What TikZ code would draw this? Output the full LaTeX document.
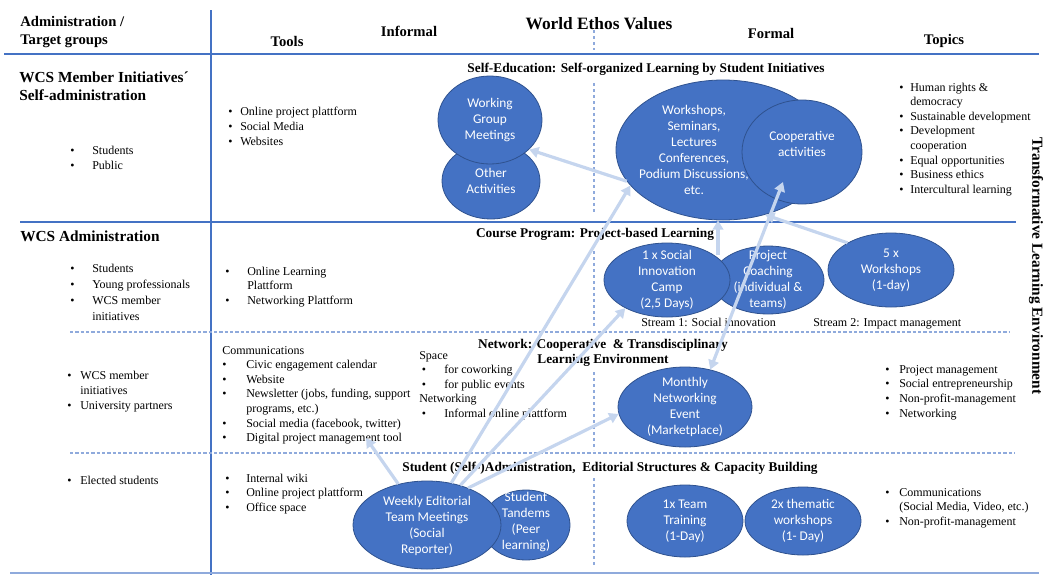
\documentclass[tikz,border=0pt]{standalone}
\usepackage{fontspec}
\setmainfont{Liberation Serif}
\newfontfamily\carl{Carlito}
\usetikzlibrary{shapes.geometric,arrows.meta}
\definecolor{fillb}{HTML}{4472C4}
\definecolor{edgeb}{HTML}{2F528F}
\definecolor{lineb}{HTML}{4472C4}
\definecolor{dashb}{HTML}{8FAADC}
\definecolor{arrb}{HTML}{C5D5EE}
\newcommand{\blist}[3]{\fontsize{9}{#2}\selectfont\begin{tabular}[t]{@{}p{#1}@{}l@{}}#3\end{tabular}}
\newcommand{\bu}{\textbullet}
\begin{document}
\begin{tikzpicture}[x=0.75pt,y=-0.75pt,
  hdr/.style={font=\bfseries\fontsize{11}{13.5}\selectfont, inner sep=0pt},
  rowh/.style={font=\bfseries\fontsize{11.5}{13.5}\selectfont, inner sep=0pt},
  sec/.style={font=\bfseries\fontsize{10}{11.25}\selectfont, inner sep=0pt},
  txt/.style={font=\fontsize{9}{11}\selectfont, inner sep=0pt},
  lst/.style={anchor=base west, inner sep=0pt},
  bub/.style={ellipse, draw=edgeb, line width=0.6pt, fill=fillb, inner sep=0pt},
  etxt/.style={text=white, align=center, inner sep=0pt, font=\carl\fontsize{10}{12}\selectfont},
  gridln/.style={draw=lineb, line width=2.2pt},
  dsh/.style={draw=dashb, line width=1.3pt, dash pattern=on 2.5pt off 1.5pt},
  vdsh/.style={draw=dashb, line width=0.8pt, dash pattern=on 2.5pt off 2pt},
  arr/.style={draw=arrb, line width=2.4pt, -{Triangle[length=7pt,width=8pt]}},
  arrtwo/.style={draw=arrb, line width=2.4pt, {Triangle[length=7pt,width=8pt]}-{Triangle[length=7pt,width=8pt]}}]
\useasboundingbox (0,0) rectangle (1049,575);

% grid lines
\draw[gridln] (4,54) -- (1039,54);
\draw[gridln] (20,222) -- (1016,222);
\draw[gridln] (211,10) -- (211,575);
\draw[dsh] (70,332) -- (1010,332);
\draw[dsh] (70,453) -- (1015,453);
\draw[draw=dashb, line width=1.5pt] (10,573) -- (1039,573);
\draw[vdsh] (594,30) -- (594,50);
\draw[vdsh] (594,83) -- (594,213);
\draw[vdsh] (594,245) -- (594,327);
\draw[vdsh] (594,372) -- (594,450);
\draw[vdsh] (594,478) -- (594,566);

% headers
\node[hdr, anchor=base west] (hA) at (20,26.5) {Administration /};
\node[hdr, anchor=base west] (hB) at (20,44.5) {Target groups};
\node[hdr, anchor=base] (hTools) at (287,46.5) {Tools};
\node[hdr, anchor=base] (hInf) at (409,36.5) {Informal};
\node[font=\bfseries\fontsize{13}{15}\selectfont, inner sep=0pt, anchor=base] (hWE) at (599,29) {World Ethos Values};
\node[hdr, anchor=base] (hForm) at (771,38.5) {Formal};
\node[hdr, anchor=base] (hTop) at (944,44.5) {Topics};
\node[font=\bfseries\fontsize{11.5}{13.5}\selectfont, inner sep=0pt, rotate=-90] (hTLE) at (1036,266) {Transformative Learning Environment};

% row headers
\node[rowh, anchor=base west] (r1a) at (19,82.5) {WCS Member Initiatives\textasciiacute};
\node[rowh, anchor=base west] (r1b) at (19,100.5) {Self-administration};
\node[rowh, anchor=base west] (r2) at (20,241.5) {WCS Administration};

% section titles
\node[sec, anchor=base] (s1) at (646,72) {Self-Education: Self-organized Learning by Student Initiatives};
\node[sec, anchor=base] (s2) at (595,237) {Course Program: Project-based Learning};
\node[sec, anchor=base] (s3a) at (603,348) {Network: Cooperative\ \ \& Transdisciplinary};
\node[sec, anchor=base] (s3b) at (603,363) {Learning Environment};
\node[sec, anchor=base] (s4) at (610,471) {Student (Self-)Administration,\ \ Editorial Structures \& Capacity Building};

% lists
\node[lst] (L1) at (70,154) {\blist{16.5pt}{11.25pt}{\bu & Students\\ \bu & Public}};
\node[lst] (L2) at (228,115) {\blist{9pt}{11.25pt}{\bu & Online project plattform\\ \bu & Social Media\\ \bu & Websites}};
\node[lst] (L3) at (70,272) {\blist{16.5pt}{12pt}{\bu & Students\\ \bu & Young professionals\\ \bu & WCS member\\ & initiatives}};
\node[lst] (L4) at (225,275) {\blist{16.5pt}{10.9pt}{\bu & Online Learning\\ & Plattform\\ \bu & Networking Plattform}};
\node[lst] (L5) at (67,379) {\blist{9.75pt}{11.6pt}{\bu & WCS member\\ & initiatives\\ \bu & University partners}};
\node[lst] (L6) at (222,354) {\blist{18pt}{10.95pt}{\multicolumn{2}{@{}l@{}}{Communications}\\ \bu & Civic engagement calendar\\ \bu & Website\\ \bu & Newsletter (jobs, funding, support\\ & programs, etc.)\\ \bu & Social media (facebook, twitter)\\ \bu & Digital project management tool}};
\node[lst] (L7) at (419,359) {\blist{18.75pt}{10.9pt}{\multicolumn{2}{@{}l@{}}{Space}\\ \hspace{2pt}\bu & for coworking\\ \hspace{2pt}\bu & for public events\\ \multicolumn{2}{@{}l@{}}{Networking}\\ \hspace{2pt}\bu & Informal online plattform}};
\node[lst] (L8) at (67,484) {\blist{9.75pt}{11pt}{\bu & Elected students}};
\node[lst] (L9) at (225,482) {\blist{15.75pt}{10.9pt}{\bu & Internal wiki\\ \bu & Online project plattform\\ \bu & Office space}};
\node[lst] (L10) at (899,91) {\blist{8.25pt}{10.95pt}{\bu & Human rights \&\\ & democracy\\ \bu & Sustainable development\\ \bu & Development\\ & cooperation\\ \bu & Equal opportunities\\ \bu & Business ethics\\ \bu & Intercultural learning}};
\node[lst] (L11) at (885,373) {\blist{10.5pt}{11pt}{\bu & Project management\\ \bu & Social entrepreneurship\\ \bu & Non-profit-management\\ \bu & Networking}};
\node[lst] (L12) at (885,496) {\blist{10.5pt}{10.9pt}{\bu & Communications\\ & (Social Media, Video, etc.)\\ \bu & Non-profit-management}};

\node[txt, anchor=base west] (st1) at (641,326) {Stream 1: Social innovation};
\node[txt, anchor=base west] (st2) at (813,326) {Stream 2: Impact management};

% ellipses
\node[bub, minimum width=73.5pt, minimum height=57pt] (oth) at (491,181) {};
\node[bub, minimum width=78pt, minimum height=66pt] (wgm) at (490,120) {};
\node[bub, minimum width=160.5pt, minimum height=105pt] (big) at (723,150) {};
\node[bub, minimum width=90pt, minimum height=78pt] (coop) at (802,152) {};
\node[bub, minimum width=84pt, minimum height=51pt] (coach) at (768,280) {};
\node[bub, minimum width=94.5pt, minimum height=55.5pt] (camp) at (667,280) {};
\node[bub, minimum width=94.5pt, minimum height=55.5pt] (five) at (891,270) {};
\node[bub, minimum width=100.5pt, minimum height=60pt] (mon) at (685,407) {};
\node[bub, minimum width=66pt, minimum height=52.5pt] (tand) at (526,525) {};
\node[bub, minimum width=111pt, minimum height=66pt] (week) at (427,525) {};
\node[bub, minimum width=87pt, minimum height=54pt] (team) at (685,521) {};
\node[bub, minimum width=87pt, minimum height=51pt] (them) at (803,521) {};

% ellipse texts
\node[etxt] (othT) at (491,181) {Other\\Activities};
\node[etxt] (wgmT) at (490,120) {Working\\Group\\Meetings};
\node[etxt] (bigT) at (694,150) {Workshops,\\Seminars,\\Lectures\\Conferences,\\Podium Discussions,\\etc.};
\node[etxt] (coopT) at (802,144) {Cooperative\\activities};
\node[etxt] (coachT) at (768,280) {Project\\Coaching\\(individual \&\\teams)};
\node[etxt] (campT) at (667,280) {1 x Social\\Innovation\\Camp\\(2,5 Days)};
\node[etxt] (fiveT) at (891,270) {5 x\\Workshops\\(1-day)};
\node[etxt] (monT) at (685,407) {Monthly\\Networking\\Event\\(Marketplace)};
\node[etxt] (tandT) at (526,522) {Student\\Tandems\\(Peer\\learning)};
\node[etxt] (weekT) at (427,526) {Weekly Editorial\\Team Meetings\\(Social\\Reporter)};
\node[etxt] (teamT) at (685,521) {1x Team\\Training\\(1-Day)};
\node[etxt] (themT) at (803,521) {2x thematic\\workshops\\(1- Day)};

% connectors
\coordinate (commTip) at (366,438);
\coordinate (coopTip) at (783,182);
\coordinate (cc) at (718,255);
\draw[arr] (big.198) -- (wgm.-37);
\draw[arr] (week.60) -- (big.201);
\draw[arr] (week.50) -- (camp.214);
\draw[arr] (week.42) -- (mon.186);
\draw[arr] (week.125) -- (commTip);
\draw[arrtwo] (mon.56) -- (coopTip);
\draw[arr] (cc) -- (cc |- big.south);
\draw[arr] (five.148) -- (big.-57);
\end{tikzpicture}
\end{document}
